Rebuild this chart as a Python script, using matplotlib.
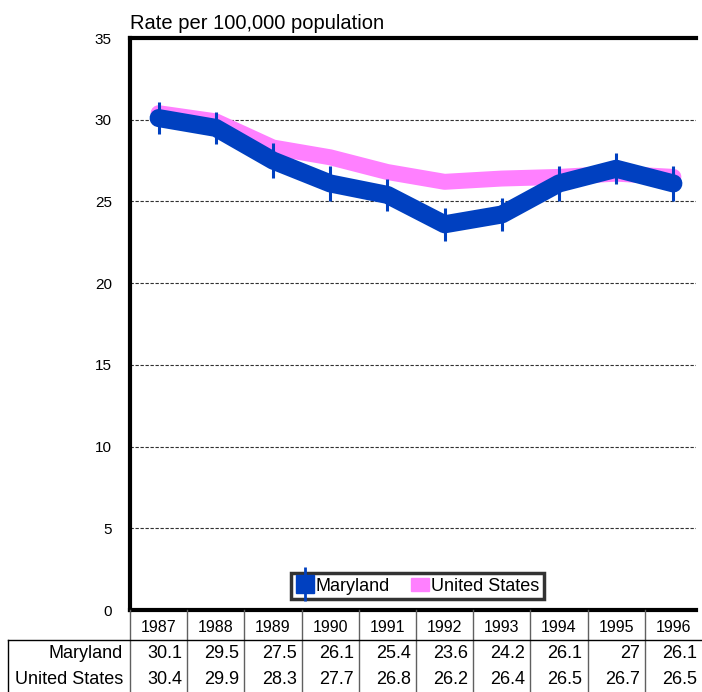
import matplotlib
matplotlib.use("Agg")
import matplotlib.pyplot as plt
from matplotlib.lines import Line2D
from matplotlib.patches import Patch

plt.rcParams["font.family"] = ["Liberation Sans", "DejaVu Sans"]

YEARS = ["1987", "1988", "1989", "1990", "1991", "1992", "1993", "1994", "1995", "1996"]
MARYLAND = [30.1, 29.5, 27.5, 26.1, 25.4, 23.6, 24.2, 26.1, 27.0, 26.1]
US = [30.4, 29.9, 28.3, 27.7, 26.8, 26.2, 26.4, 26.5, 26.7, 26.5]
MD_ERR = [1.0, 1.0, 1.05, 1.05, 1.0, 1.0, 1.0, 1.05, 0.95, 1.05]
MD_LABELS = ["30.1", "29.5", "27.5", "26.1", "25.4", "23.6", "24.2", "26.1", "27", "26.1"]

BLUE = "#0040c0"
PINK = "#ff80ff"

fig = plt.figure(figsize=(7.02, 6.92), dpi=100)
ax = fig.add_axes([130 / 702, 82 / 692, 566 / 702, 572 / 692])
x = list(range(len(YEARS)))

ax.plot(x, US, color=PINK, lw=11.5, solid_capstyle="round", solid_joinstyle="round", zorder=3)
ax.errorbar(x, MARYLAND, yerr=MD_ERR, fmt="none", ecolor=BLUE, elinewidth=2.2, zorder=4)
ax.plot(x, MARYLAND, color=BLUE, lw=13, solid_capstyle="round", solid_joinstyle="round", zorder=5)

# 566 px wide axes, 57.2 px per category
ax.set_xlim(-0.5, -0.5 + len(YEARS) * 566 / 572)
ax.set_ylim(0, 35)
ax.set_yticks(range(0, 36, 5))
ax.tick_params(axis="y", length=0, pad=13, labelsize=11)
ax.set_xticks([])
for y in range(5, 35, 5):
    ax.axhline(y, color="#303030", lw=0.8, ls=(0, (3, 1.5)), zorder=1)
for s in ["left", "top", "bottom"]:
    ax.spines[s].set_linewidth(3)
ax.spines["right"].set_visible(False)

ax.text(0, 1.008, "Rate per 100,000 population", transform=ax.transAxes,
        fontsize=14.5, ha="left", va="bottom")

md_handle = (Line2D([0], [0], color=BLUE, marker="|", markersize=25, mew=2, lw=0),
             Line2D([0], [0], color=BLUE, marker="s", markersize=13, lw=0, markeredgecolor=BLUE))
handles = [md_handle, Patch(facecolor=PINK, edgecolor=PINK)]
leg = ax.legend(handles, ["Maryland", "United States"], loc="lower center",
                bbox_to_anchor=(0.508, 0.003), ncol=2, fontsize=13, frameon=True,
                fancybox=False, handlelength=1.0, handletextpad=0.1,
                columnspacing=1.2, borderpad=0.25)
leg.get_frame().set_edgecolor("black")
leg.get_frame().set_linewidth(2.5)

# data table below the axes, positioned in pixel units of the figure
W, H = 702.0, 692.0
col_w = 572.0 / len(YEARS)
x0 = 130.0
gray = "#606060"


def fx(px):
    return px / W


def fy(py):
    return 1 - py / H


for i, yr in enumerate(YEARS):
    cx = x0 + (i + 0.5) * col_w
    fig.text(fx(cx), fy(628), yr, ha="center", va="center", fontsize=11.5)
    fig.text(fx(x0 + (i + 1) * col_w - 5), fy(653), MD_LABELS[i], ha="right", va="center", fontsize=13)
    fig.text(fx(x0 + (i + 1) * col_w - 5), fy(680), f"{US[i]:.1f}", ha="right", va="center", fontsize=13)
fig.text(fx(123), fy(653), "Maryland", ha="right", va="center", fontsize=13)
fig.text(fx(123), fy(680), "United States", ha="right", va="center", fontsize=13)

for i in range(len(YEARS)):
    xx = x0 + i * col_w
    fig.add_artist(Line2D([fx(xx), fx(xx)], [fy(610), fy(692)], color=gray, lw=1))
fig.add_artist(Line2D([fx(8), fx(8)], [fy(640), fy(692)], color="black", lw=1))
fig.add_artist(Line2D([fx(8), fx(702)], [fy(640), fy(640)], color="black", lw=1))

fig.savefig("out.png", dpi=100)
